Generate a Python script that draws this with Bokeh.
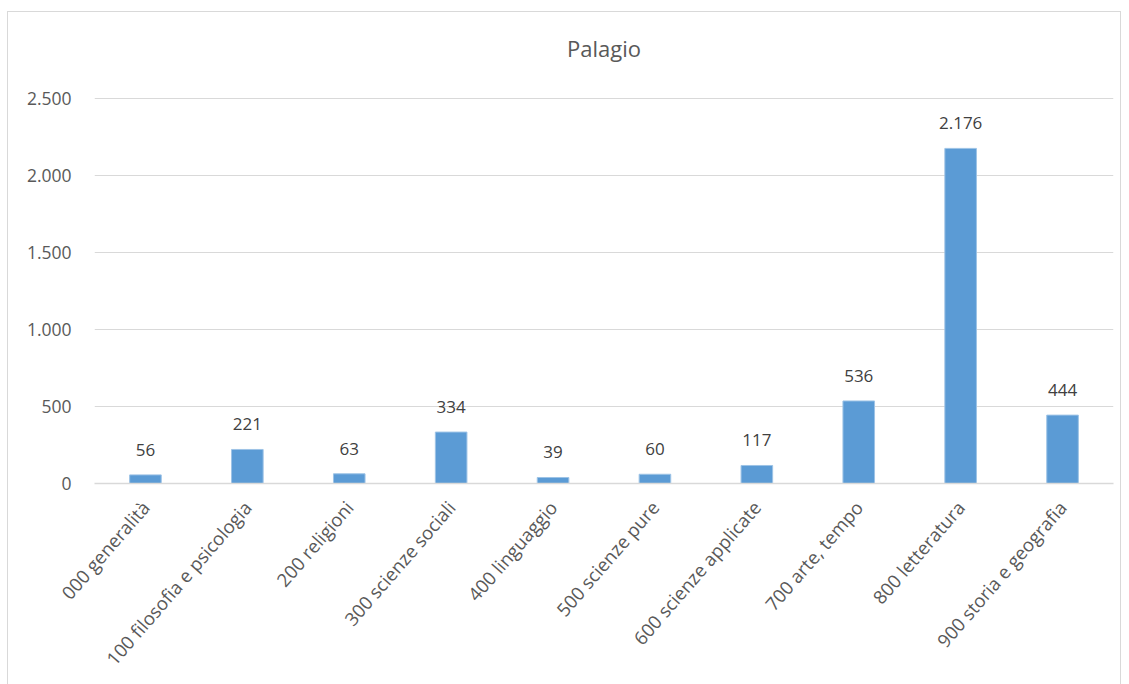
from bokeh.plotting import figure
from bokeh.models import ColumnDataSource, CustomJSTickFormatter, FixedTicker, Label
from bokeh.embed import file_html
from bokeh.resources import INLINE

categories = ["000 generalità", "100 filosofia e psicologia", "200 religioni",
              "300 scienze sociali", "400 linguaggio", "500 scienze pure",
              "600 scienze applicate", "700 arte, tempo", "800 letteratura",
              "900 storia e geografia"]
values = [56, 221, 63, 334, 39, 60, 117, 536, 2176, 444]
y_ticks = [0, 500, 1000, 1500, 2000, 2500]
title_text = "Palagio"

def fmt(v):
    return f"{v:,}".replace(",", ".")

src = ColumnDataSource(dict(cat=categories, val=values, lab=[fmt(v) for v in values]))

FONT = "Open Sans"
# the range extends above the last tick so that the title sits inside the frame
p = figure(x_range=categories, y_range=(0, 3000), width=1114, height=673,
           output_backend="svg", toolbar_location=None,
           min_border_left=86, min_border_right=9, min_border_top=9,
           min_border_bottom=202, margin=(11, 8, 0, 7),
           styles={"border": "1px solid #D9D9D9", "border-bottom": "none"})

title = Label(x=len(categories) / 2, y=2825, text=title_text,
              text_align="center", text_baseline="middle", text_font=FONT,
              text_font_size="22px", text_color="#595959")
p.add_layout(title)

p.vbar(x="cat", top="val", width=0.31, source=src, fill_color="#5B9BD5",
       line_color="#9DC3E6", line_width=1)
p.text(x="cat", y="val", text="lab", source=src, text_align="center",
       text_baseline="bottom", y_offset=-19, text_font_size="17px",
       text_color="#404040", text_font={"value": FONT})

p.outline_line_color = None
p.background_fill_color = "white"
p.border_fill_color = "white"

p.xgrid.grid_line_color = None
p.ygrid.grid_line_color = "#D9D9D9"
p.ygrid.grid_line_width = 1
p.yaxis.ticker = FixedTicker(ticks=y_ticks)
p.yaxis.formatter = CustomJSTickFormatter(code="return tick.toFixed(0).replace(/\\B(?=(\\d{3})+(?!\\d))/g, '.');")

for ax in (p.xaxis, p.yaxis):
    ax.major_tick_line_color = None
    ax.minor_tick_line_color = None
    ax.major_label_text_font = FONT
    ax.major_label_text_color = "#595959"

p.xaxis.major_label_text_font_size = "18.5px"
p.yaxis.major_label_text_font_size = "17.5px"
p.yaxis.axis_line_color = None
p.yaxis.major_label_standoff = 17
p.xaxis.axis_line_color = "#D9D9D9"
p.xaxis.axis_line_width = 1.5
p.xaxis.major_label_orientation = 0.855
p.xaxis.major_label_standoff = 14
p.x_range.range_padding = 0

open("out.html", "w").write(file_html(p, INLINE))
